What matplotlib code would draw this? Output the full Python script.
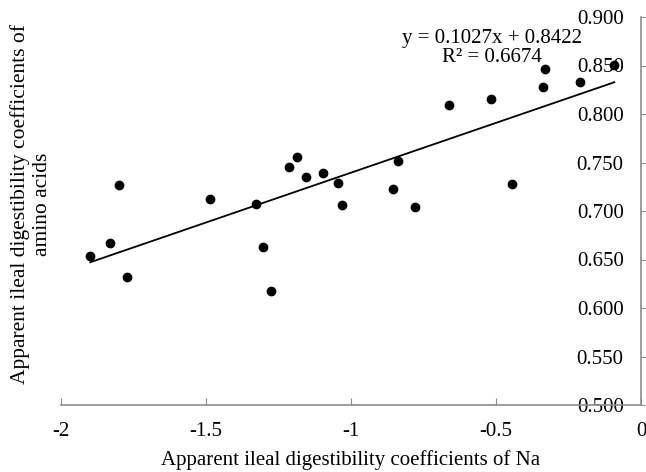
import numpy as np
import matplotlib
matplotlib.use('Agg')
import matplotlib.pyplot as plt

plt.rcParams['font.family'] = ['Liberation Serif', 'DejaVu Serif']
plt.rcParams['axes.unicode_minus'] = False

# AID of Na vs AID of amino acids
na_aid = [-1.899, -1.830, -1.800, -1.772, -1.487, -1.326, -1.305, -1.276,
          -1.215, -1.185, -1.156, -1.096, -1.045, -1.030, -0.856, -0.839,
          -0.780, -0.663, -0.516, -0.446, -0.337, -0.331, -0.210, -0.092]
aa_aid = [0.654, 0.667, 0.727, 0.632, 0.712, 0.707, 0.663, 0.618,
          0.745, 0.756, 0.735, 0.739, 0.729, 0.706, 0.723, 0.752,
          0.704, 0.809, 0.815, 0.728, 0.828, 0.846, 0.833, 0.851]

slope = 0.1027
intercept = 0.8422
r2 = 0.6674

xticks = [-2, -1.5, -1, -0.5, 0]
yticks = [0.5, 0.55, 0.6, 0.65, 0.7, 0.75, 0.8, 0.85, 0.9]

axis_color = '#8c8c8c'

fig = plt.figure(figsize=(6.46, 4.72), dpi=100)
ax = fig.add_axes([61/646, 1 - 405/472, 580/646, 388/472])

ax.scatter(na_aid, aa_aid, s=36, color='black', zorder=3)

# linear trendline
xs = np.array([min(na_aid), max(na_aid)])
ax.plot(xs, slope * xs + intercept, color='black', lw=1.3)

ax.text(-0.515, 0.868, 'y = %.4fx + %.4f\nR² = %.4f' % (slope, intercept, r2),
        ha='center', va='center', fontsize=15, linespacing=1.05)

ax.set_xlim(-2, 0)
ax.set_ylim(0.5, 0.9)
ax.set_xticks(xticks)
ax.set_xticklabels(['-2', '-1.5', '-1', '-0.5', '0'])
ax.set_yticks(yticks)
ax.set_yticklabels(['%.3f' % v for v in yticks])

ax.spines['top'].set_visible(False)
ax.spines['left'].set_visible(False)
ax.spines['right'].set_color(axis_color)
ax.spines['bottom'].set_color(axis_color)
ax.spines['right'].set_linewidth(1.2)
ax.spines['bottom'].set_linewidth(1.2)

# y axis sits at x=0 with labels on its left side
ax.yaxis.tick_right()
ax.tick_params(axis='x', direction='in', length=5, color=axis_color,
               labelsize=15, pad=12)
ax.tick_params(axis='y', direction='out', length=3, color=axis_color,
               labelsize=15, pad=-15.5)
for lbl in ax.get_yticklabels():
    lbl.set_horizontalalignment('right')

ax.set_xlabel('Apparent ileal digestibility coefficients of Na',
              fontsize=15, labelpad=7)
fig.text(31/646, 1 - 204/472,
         'Apparent ileal digestibility coefficients of\namino acids',
         rotation=90, ha='center', va='center', fontsize=15.5,
         multialignment='center', linespacing=1.15)

fig.savefig('out.png', dpi=100)
